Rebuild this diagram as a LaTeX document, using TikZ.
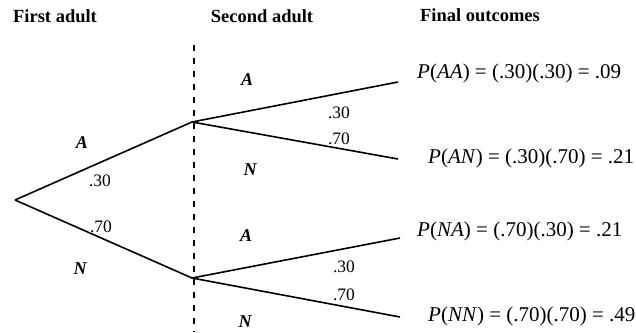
\documentclass[tikz,border=0pt]{standalone}
\usepackage{fontspec}
\setmainfont{Liberation Serif}
\begin{document}
\begin{tikzpicture}[x=1pt,y=-1pt,
  branch/.style={line width=1.6pt},
  divider/.style={line width=1.4pt, dash pattern=on 6pt off 7pt},
  header/.style={inner sep=0pt, font=\fontsize{18.5}{22}\selectfont\bfseries},
  outcome/.style={inner sep=0pt, anchor=west, font=\fontsize{21}{25}\selectfont},
  letter/.style={inner sep=0pt, font=\fontsize{18}{22}\selectfont\bfseries\itshape},
  prob/.style={inner sep=0pt, font=\fontsize{17.5}{21}\selectfont}]
\useasboundingbox (0,0) rectangle (636,332);
% headers
\node[header] (h1) at (55,16) {First adult};
\node[header] (h2) at (262,16) {Second adult};
\node[header] (h3) at (480,15) {Final outcomes};
% divider
\coordinate (dtop) at (194,45);
\coordinate (dbot) at (194,332);
\draw[divider] (dtop) -- (dbot);
% tree vertices
\coordinate (root) at (15,200);
\coordinate (ua) at (192,122);
\coordinate (ln) at (192,278);
\coordinate (eAA) at (398,82);
\coordinate (eAN) at (398,159);
\coordinate (eNA) at (400,238);
\coordinate (eNN) at (400,317);
\draw[branch] (root) -- (ua);
\draw[branch] (root) -- (ln);
\draw[branch] (ua) -- (eAA);
\draw[branch] (ua) -- (eAN);
\draw[branch] (ln) -- (eNA);
\draw[branch] (ln) -- (eNN);
% first-stage labels
\node[letter] (fa) at (82,143) {A};
\node[prob] (fp3) at (100,181) {.30};
\node[prob] (fp7) at (101,227) {.70};
\node[letter] (fn) at (80,269) {N};
% second-stage labels, upper
\node[letter] (sa1) at (247,80) {A};
\node[prob] (sp31) at (339,113) {.30};
\node[prob] (sp71) at (339,139) {.70};
\node[letter] (sn1) at (250,170) {N};
% second-stage labels, lower
\node[letter] (sa2) at (246,236) {A};
\node[prob] (sp32) at (344,267) {.30};
\node[prob] (sp72) at (344,295) {.70};
\node[letter] (sn2) at (245,322) {N};
% outcomes
\node[outcome] (oAA) at (417,73) {\textit{P}(\textit{AA}) = (.30)(.30) = .09};
\node[outcome] (oAN) at (428,158) {\textit{P}(\textit{AN}) = (.30)(.70) = .21};
\node[outcome] (oNA) at (417,231) {\textit{P}(\textit{NA}) = (.70)(.30) = .21};
\node[outcome] (oNN) at (428,316) {\textit{P}(\textit{NN}) = (.70)(.70) = .49};
\end{tikzpicture}
\end{document}
